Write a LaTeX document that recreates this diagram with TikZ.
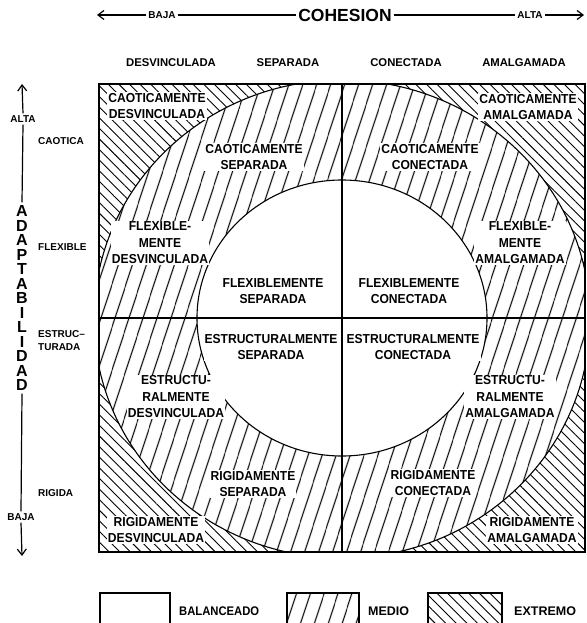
\documentclass[tikz,border=0pt]{standalone}
\usepackage{fontspec}
\setmainfont{Liberation Sans}
\newfontfamily\labfont[FakeStretch=0.93]{Liberation Sans}
\newfontfamily\legfont[FakeStretch=0.9]{Liberation Sans}
\usetikzlibrary{patterns.meta,arrows.meta}
\tikzset{
  medhatch/.style={pattern={Lines[angle=72,distance=13pt,line width=1.1pt]}},
  exthatch/.style={pattern={Lines[angle=-45,distance=7.5pt,line width=0.9pt]}},
  lab/.style={font=\labfont\bfseries\fontsize{13}{16.5}\selectfont, align=center, inner sep=1pt, fill=white},
  collab/.style={font=\bfseries\fontsize{11.3}{13}\selectfont, inner sep=1pt},
  rowlab/.style={font=\bfseries\fontsize{10}{13}\selectfont, inner sep=1pt, anchor=west, align=left},
  small/.style={font=\bfseries\fontsize{10}{12}\selectfont, inner sep=2pt},
  leg/.style={font=\bfseries\fontsize{12.5}{14}\selectfont, inner sep=1pt, anchor=west},
  axis/.style={line width=1.2pt},
  tip/.style={-{Straight Barb[length=6pt,width=9pt,line width=1.2pt]}}
}
\begin{document}
\begin{tikzpicture}[x=1pt,y=-1pt]
\fill[white] (0,0) rectangle (586,623);
\useasboundingbox (0,0) rectangle (586,623);
\begin{scope}
\clip (0,0) rectangle (586,623);
% hatch regions
\begin{scope}
\clip (99,84) rectangle (585,552);
\fill[exthatch, even odd rule] (99,84) rectangle (585,552) (342,319) ellipse [x radius=248, y radius=239];
\fill[medhatch, even odd rule] (342,319) ellipse [x radius=248, y radius=239] (342,318) ellipse [x radius=145, y radius=138];
\draw[line width=1.1pt] (342,319) ellipse [x radius=248, y radius=239];
\end{scope}
\draw[line width=1.1pt] (342,318) ellipse [x radius=145, y radius=138];
\draw[line width=1.1pt] (99,318) -- (585,318);
\draw[line width=1.1pt] (342,84) -- (342,552);
\draw[line width=1.5pt] (99,84) rectangle (585,552);

% region labels
\node[lab] (cd) at (157,106) {CAOTICAMENTE\\DESVINCULADA};
\node[lab] (cs) at (254,157) {CAOTICAMENTE\\SEPARADA};
\node[lab] (cc) at (430,157) {CAOTICAMENTE\\CONECTADA};
\node[lab] (ca) at (528,107) {CAOTICAMENTE\\AMALGAMADA};
\node[lab] (fd) at (160,243) {FLEXIBLE-\\MENTE\\DESVINCULADA};
\node[lab] (fs) at (273,291) {FLEXIBLEMENTE\\SEPARADA};
\node[lab] (fc) at (409,291) {FLEXIBLEMENTE\\CONECTADA};
\node[lab] (fa) at (520,243) {FLEXIBLE-\\MENTE\\AMALGAMADA};
\node[lab] (ed) at (176,397) {ESTRUCTU-\\RALMENTE\\DESVINCULADA};
\node[lab] (es) at (271,347) {ESTRUCTURALMENTE\\SEPARADA};
\node[lab] (ec) at (413,347) {ESTRUCTURALMENTE\\CONECTADA};
\node[lab] (ea) at (510,397) {ESTRUCTU-\\RALMENTE\\AMALGAMADA};
\node[lab] (rd) at (156,530) {RIGIDAMENTE\\DESVINCULADA};
\node[lab] (rs) at (253,484) {RIGIDAMENTE\\SEPARADA};
\node[lab] (rc) at (433,483) {RIGIDAMENTE\\CONECTADA};
\node[lab] (ra) at (532,530) {RIGIDAMENTE\\AMALGAMADA};

% top axis
\node[small] (bajaT) at (162,15) {BAJA};
\node[font=\bfseries\fontsize{17.5}{20}\selectfont, inner sep=2pt] (coh) at (345,15) {COHESION};
\node[small] (altaT) at (530,15) {ALTA};
\coordinate (tl) at (97,15);
\coordinate (tr) at (584,15);
\draw[axis, tip] (bajaT.west) -- (tl);
\draw[axis] (bajaT.east) -- (coh.west);
\draw[axis] (coh.east) -- (altaT.west);
\draw[axis, tip] (altaT.east) -- (tr);

% column labels
\node[collab] (c1) at (171,63) {DESVINCULADA};
\node[collab] (c2) at (288,63) {SEPARADA};
\node[collab] (c3) at (406,63) {CONECTADA};
\node[collab] (c4) at (524,63) {AMALGAMADA};

% left axis
\node[small] (altaL) at (23,119) {ALTA};
\node[font=\bfseries\fontsize{16}{14.5}\selectfont, align=center, inner sep=3pt] (adapt) at (22,298)
  {A\\D\\A\\P\\T\\A\\B\\I\\L\\I\\D\\A\\D};
\node[small] (bajaL) at (21,517) {BAJA};
\coordinate (vt) at (22,84);
\coordinate (vb) at (22,556);
\draw[axis, tip] (altaL.north) -- (vt);
\draw[axis] (altaL.south) -- (adapt.north);
\draw[axis] (adapt.south) -- (bajaL.north);
\draw[axis, tip] (bajaL.south) -- (vb);

% row labels
\node[rowlab] (r1) at (37,141) {CAOTICA};
\node[rowlab] (r2) at (37,247) {FLEXIBLE};
\node[rowlab] (r3) at (37,341) {ESTRUC--\\TURADA};
\node[rowlab] (r4) at (37,493) {RIGIDA};

% legend
\draw[line width=1.2pt] (100,628) |- (170,593) -- (170,628);
\fill[medhatch] (287,593) rectangle (359,628);
\draw[line width=1.2pt] (287,628) |- (359,593) -- (359,628);
\fill[exthatch] (428,593) rectangle (502,628);
\draw[line width=1.2pt] (428,628) |- (502,593) -- (502,628);
\node[leg, font=\legfont\bfseries\fontsize{12.5}{14}\selectfont] (lb) at (178,611) {BALANCEADO};
\node[leg] (lm) at (367,611) {MEDIO};
\node[leg] (le) at (513,611) {EXTREMO};
\end{scope}
\end{tikzpicture}
\end{document}
